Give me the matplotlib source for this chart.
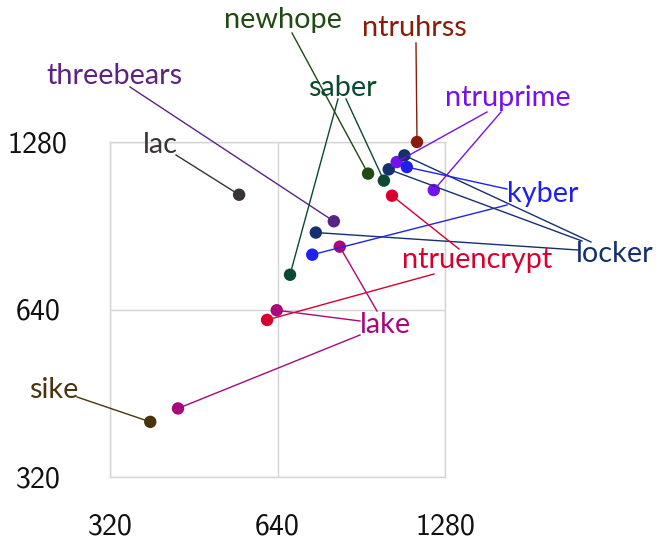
import matplotlib
matplotlib.use("Agg")
import matplotlib.pyplot as plt
from matplotlib.lines import Line2D

# Each point: scheme name, x value, y value
schemes = ['lac', 'threebears', 'locker', 'kyber', 'lake', 'saber', 'newhope',
           'saber', 'locker', 'ntruprime', 'locker', 'kyber', 'ntruprime',
           'ntruencrypt', 'ntruhrss', 'lake', 'ntruencrypt', 'lake', 'sike']
x_vals = [546, 808, 750, 739, 828, 674, 931, 994, 1014, 1048, 1082, 1093, 1222,
          1028, 1140, 638, 613, 424, 378]
y_vals = [1029, 922, 880, 803, 830, 739, 1123, 1091, 1143, 1178, 1211, 1154, 1049,
          1025, 1280, 638, 613, 425, 402]

tick_values = [320, 640, 1280]
tick_labels = ['320', '640', '1280']

colors = {
    'lac': '#3a3434', 'threebears': '#5b2383', 'locker': '#15306e',
    'kyber': '#2020ee', 'lake': '#a8087a', 'saber': '#0b4a30',
    'newhope': '#1f4a12', 'ntruprime': '#7411ee', 'ntruencrypt': '#d8002e',
    'ntruhrss': '#8a1c0c', 'sike': '#4a3410',
}

W, H = 657, 541
fig = plt.figure(figsize=(W / 100, H / 100), dpi=100)
ax = fig.add_axes([110 / W, (H - 477) / H, 335 / W, 335 / H])

ax.set_xscale('log', base=2)
ax.set_yscale('log', base=2)
ax.set_xlim(320, 1280)
ax.set_ylim(320, 1280)
ax.set_xticks(tick_values)
ax.set_xticklabels(tick_labels)
ax.set_yticks(tick_values)
ax.set_yticklabels(tick_labels)
ax.minorticks_off()
ax.grid(True, color='#d4d4d4', linewidth=1.0)
for s in ax.spines.values():
    s.set_color('#d4d4d4')
    s.set_linewidth(1.0)
ax.tick_params(length=0, labelsize=21.5, colors='#111111')
ax.tick_params(axis='x', pad=36)
ax.tick_params(axis='y', pad=52)
for lbl in ax.get_xticklabels():
    lbl.set_fontfamily('cmss10')
    lbl.set_va('center')
for lbl in ax.get_yticklabels():
    lbl.set_fontfamily('cmss10')
    lbl.set_ha('center')

# label text positions (figure pixels from top-left)
label_pos = {
    'lac': (160, 145), 'newhope': (283, 20), 'ntruhrss': (414, 28),
    'threebears': (114, 76), 'saber': (342, 88), 'ntruprime': (508, 98),
    'kyber': (543, 194), 'locker': (615, 254), 'ntruencrypt': (477, 260),
    'lake': (385, 325), 'sike': (54, 390),
}
# leader-line start for each point, same order as the data
anchors = [(176, 155), (130, 87), (578, 250), (507, 205), (377, 311),
           (338, 99), (292, 33), (346, 99), (582, 241), (487, 112),
           (591, 242), (507, 189), (501, 112), (459, 249), (416, 43),
           (360, 321), (434, 274), (360, 335), (77, 397)]

to_fig = fig.transFigure.inverted()
for name, xv, yv, (axp, ayp) in zip(schemes, x_vals, y_vals, anchors):
    px, py = ax.transData.transform((xv, yv))
    f0 = to_fig.transform((axp, H - ayp))
    f1 = to_fig.transform((px, py))
    fig.add_artist(Line2D([f0[0], f1[0]], [f0[1], f1[1]],
                          transform=fig.transFigure, color=colors[name],
                          linewidth=1.0, zorder=2))

ax.scatter(x_vals, y_vals, s=80, c=[colors[n] for n in schemes],
           zorder=5, clip_on=False, edgecolors='none')

for name, (tx, ty) in label_pos.items():
    fig.text(tx / W, (H - ty) / H, name, color=colors[name], fontsize=20.8,
             family='Lato', ha='center', va='center', zorder=6)

fig.savefig('out.png', dpi=100)
